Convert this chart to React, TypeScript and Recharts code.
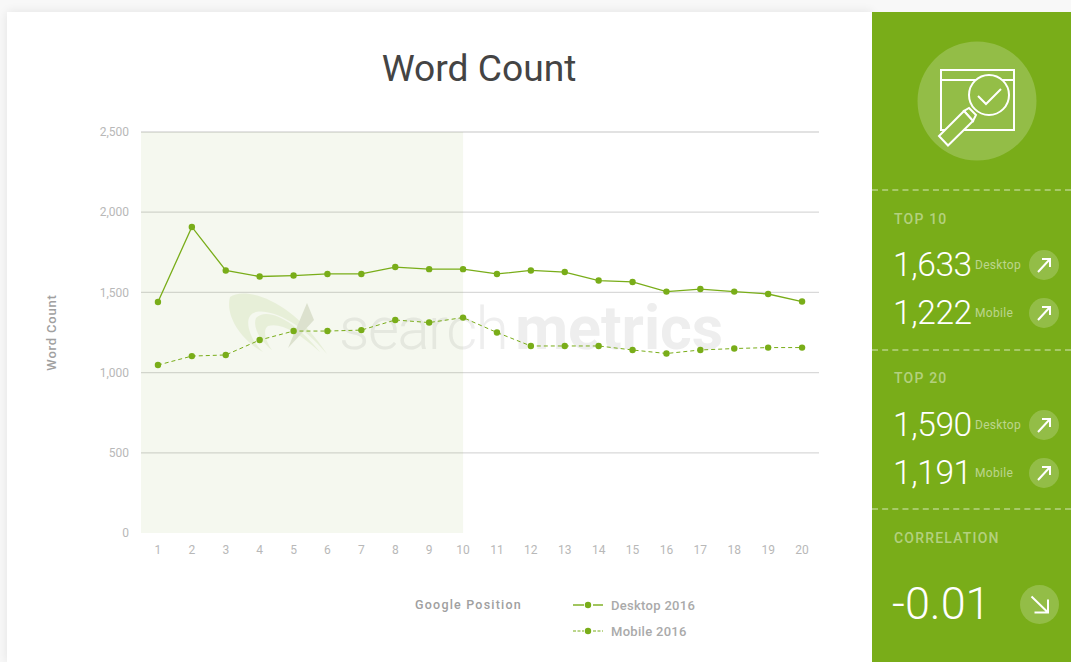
import React from 'react';
import { LineChart, Line, XAxis, YAxis, CartesianGrid, ReferenceArea, Legend } from 'recharts';

const positions = [1, 2, 3, 4, 5, 6, 7, 8, 9, 10, 11, 12, 13, 14, 15, 16, 17, 18, 19, 20];
const desktop2016 = [1440, 1908, 1637, 1599, 1605, 1615, 1615, 1658, 1645, 1645, 1615, 1637, 1627, 1574, 1565, 1505, 1521, 1505, 1490, 1443];
const mobile2016 = [1047, 1103, 1110, 1203, 1259, 1259, 1265, 1328, 1312, 1343, 1250, 1166, 1166, 1166, 1141, 1119, 1141, 1150, 1156, 1156];
const yTicks = [0, 500, 1000, 1500, 2000, 2500];
const gridValues = [500, 1000, 1500, 2000, 2500];

const top10Stats = [
  { value: '1,633', label: 'Desktop' },
  { value: '1,222', label: 'Mobile' },
];
const top20Stats = [
  { value: '1,590', label: 'Desktop' },
  { value: '1,191', label: 'Mobile' },
];

const data = positions.map((position, i) => ({
  position,
  desktop: desktop2016[i],
  mobile: mobile2016[i],
}));

const GREEN = '#79ad19';
const FONT = 'Roboto, sans-serif';

const abs = (left: number, top: number): React.CSSProperties => ({ position: 'absolute', left, top });

const Watermark = () => (
  <svg width={865} height={650} style={{ position: 'absolute', left: 0, top: 0 }}>
    <g transform="translate(-7,-12)">
      <g fill={GREEN} opacity={0.1}>
        <path d="M230,297 C246,286 292,300 327,354 C300,322 272,309 256,312 C241,316 250,340 263,352 C241,340 225,316 230,297Z" />
        <path d="M256,318 C268,306 296,322 320,352 C298,332 280,322 268,326 C262,330 266,342 272,350 C262,342 252,328 256,318Z" />
      </g>
      <path d="M307,303 L314,320 L288,348 Z" fill="#e4e7dc" />
      <text x={339} y={349} fontFamily={FONT} fill="#eeeeee">
        <tspan fontSize={60} fontWeight={300} letterSpacing={-1.5}>search</tspan>
        <tspan fontSize={61} fontWeight={700} dx={8}>metrics</tspan>
      </text>
    </g>
  </svg>
);

const ChartLegend = ({ payload }: any) => (
  <div style={{ fontFamily: FONT, fontSize: 13, letterSpacing: 0.3, color: '#aaaaaa', fontWeight: 500 }}>
    {(payload || []).map((entry: any) => {
      const dash = entry.payload.strokeDasharray;
      const width = dash ? 1 : 1.4;
      return (
        <div key={entry.value} style={{ display: 'flex', alignItems: 'center', height: 26 }}>
          <svg width={32} height={10} style={{ marginRight: 6 }}>
            <line x1={0} x2={11} y1={5} y2={5} stroke={GREEN} strokeWidth={width} strokeDasharray={dash ? '3 1.5' : undefined} />
            <circle cx={15} cy={5} r={3.2} fill={GREEN} />
            <line x1={20} x2={30} y1={5} y2={5} stroke={GREEN} strokeWidth={width} strokeDasharray={dash ? '3 1.5' : undefined} />
          </svg>
          {entry.value}
        </div>
      );
    })}
  </div>
);

const ArrowBadge = ({ cx, cy, r, down }: { cx: number; cy: number; r: number; down?: boolean }) => (
  <svg width={r * 2} height={r * 2} viewBox={`${-r} ${-r} ${r * 2} ${r * 2}`} style={{ position: 'absolute', left: cx - r, top: cy - r }}>
    <circle r={r} fill="rgba(255,255,255,0.2)" />
    {down ? (
      <path d="M-8,-8 L8.5,8 M-5,8 L8.5,8 L8.5,-5" fill="none" stroke="#fff" strokeWidth={2} />
    ) : (
      <path d="M-6,7 L6,-6 M-2,-6 L6,-6 L6,2" fill="none" stroke="#fff" strokeWidth={2} />
    )}
  </svg>
);

const Divider = ({ top }: { top: number }) => (
  <div style={{ ...abs(0, top), width: 199, borderTop: '2px dashed rgba(255,255,255,0.35)' }} />
);

const SectionLabel = ({ top, children }: { top: number; children: React.ReactNode }) => (
  <div style={{ ...abs(22, top), fontSize: 14, fontWeight: 500, letterSpacing: 1.2, lineHeight: '16px', color: 'rgba(255,255,255,0.45)' }}>
    {children}
  </div>
);

const StatRow = ({ top, value, label }: { top: number; value: string; label: string }) => (
  <>
    <div style={{ ...abs(21, top - 22), fontSize: 33.5, letterSpacing: -0.4, fontWeight: 300, lineHeight: '44px', color: '#fff' }}>{value}</div>
    <div style={{ ...abs(103, top - 8), fontSize: 12, lineHeight: '16px', letterSpacing: 0.3, color: 'rgba(255,255,255,0.5)' }}>{label}</div>
    <ArrowBadge cx={172} cy={top} r={15} />
  </>
);

const SearchIcon = () => (
  <svg width={120} height={120} viewBox="917 41 120 120" style={{ position: 'absolute', left: 45, top: 29 }}>
    <circle cx={977} cy={101} r={59.5} fill="rgba(255,255,255,0.2)" />
    <g fill="none" stroke="#fff" strokeWidth={2}>
      <rect x={941} y={70} width={73} height={60} />
      <line x1={941} y1={80} x2={1014} y2={80} />
      <path d="M969,108 L976,115 L973,121 L964,111 Z" fill="#94be47" />
      <path d="M964,111 L973,121 L948,145.5 L939,136 Z" fill="#94be47" />
      <circle cx={989} cy={95} r={20} fill="#94be47" />
      <path d="M978,96 L986,104 L1001,89" />
    </g>
  </svg>
);

const SidePanel = () => (
  <div style={{ ...abs(872, 12), width: 199, height: 650, background: GREEN, fontFamily: FONT }}>
    <SearchIcon />
    <Divider top={177} />
    <SectionLabel top={199}>TOP 10</SectionLabel>
    <StatRow top={253} value={top10Stats[0].value} label={top10Stats[0].label} />
    <StatRow top={301} value={top10Stats[1].value} label={top10Stats[1].label} />
    <Divider top={337} />
    <SectionLabel top={358}>TOP 20</SectionLabel>
    <StatRow top={413} value={top20Stats[0].value} label={top20Stats[0].label} />
    <StatRow top={461} value={top20Stats[1].value} label={top20Stats[1].label} />
    <Divider top={496} />
    <SectionLabel top={518}>CORRELATION</SectionLabel>
    <div style={{ ...abs(20, 564), fontSize: 45, fontWeight: 300, lineHeight: '56px', color: '#fff' }}>-0.01</div>
    <ArrowBadge cx={167} cy={592} r={19.5} down />
  </div>
);

export default function App() {
  return (
    <div style={{ position: 'fixed', left: 0, top: 0, width: 1071, height: 662, overflow: 'hidden', background: '#f8f8f8' }}>
      <div style={{ ...abs(7, 12), width: 865, height: 650, background: '#fff', boxShadow: '0 0 10px rgba(0,0,0,0.09)' }}>
        <Watermark />
      </div>
      <div style={{ ...abs(0, 43), width: 958, textAlign: 'center', fontFamily: FONT, fontSize: 37.2, lineHeight: '50px', color: '#444444' }}>
        Word Count
      </div>
      <div style={abs(0, 0)}>
        <LineChart width={872} height={662} data={data} margin={{ top: 132, right: 53, bottom: 49, left: 41 }}>
          <ReferenceArea x1={0.5} x2={10} y1={0} y2={2500} fill="#80a830" fillOpacity={0.08} stroke="none" />
          <CartesianGrid vertical={false} horizontalValues={gridValues} stroke="#d9d9d9" strokeWidth={1.3} />
          <XAxis
            dataKey="position"
            type="number"
            domain={[0.5, 20.5]}
            ticks={positions}
            interval={0}
            height={80}
            axisLine={false}
            tickLine={false}
            tickMargin={6}
            tick={{ fontFamily: FONT, fontSize: 12, fill: '#b8b8b8' }}
            label={{
              value: 'Google Position',
              position: 'insideTop',
              dx: -11.5,
              dy: 62,
              style: { fontFamily: FONT, fontSize: 12.5, fontWeight: 500, letterSpacing: 1.2, fill: '#a0a0a0' },
            }}
          />
          <YAxis
            domain={[0, 2500]}
            ticks={yTicks}
            width={100}
            axisLine={false}
            tickLine={false}
            tickMargin={6}
            tickFormatter={(value: number) => value.toLocaleString('en-US')}
            tick={{ fontFamily: FONT, fontSize: 12, fill: '#b8b8b8' }}
            label={{
              value: 'Word Count',
              angle: -90,
              position: 'insideLeft',
              dx: 5,
              style: { textAnchor: 'middle', fontFamily: FONT, fontSize: 13, fontWeight: 500, letterSpacing: 0.8, fill: '#a0a0a0' },
            }}
          />
          <Legend
            layout="vertical"
            align="center"
            verticalAlign="middle"
            wrapperStyle={{ left: 573, top: 592, width: 160, height: 52 }}
            content={<ChartLegend />}
          />
          <Line
            name="Desktop 2016"
            dataKey="desktop"
            type="linear"
            stroke={GREEN}
            strokeWidth={1.3}
            dot={{ r: 3.2, fill: GREEN, stroke: 'none' }}
            isAnimationActive={false}
          />
          <Line
            name="Mobile 2016"
            dataKey="mobile"
            type="linear"
            stroke={GREEN}
            strokeWidth={1}
            strokeDasharray="4 3"
            dot={{ r: 3.2, fill: GREEN, stroke: 'none', strokeDasharray: '' }}
            isAnimationActive={false}
          />
        </LineChart>
      </div>
      <SidePanel />
    </div>
  );
}
